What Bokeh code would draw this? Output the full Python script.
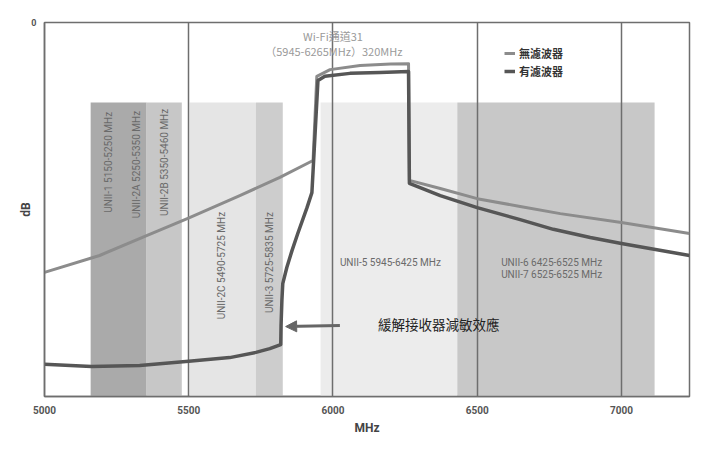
import numpy as np

from bokeh.plotting import figure
from bokeh.embed import file_html
from bokeh.resources import INLINE
from bokeh.models import Label, Arrow, NormalHead, FixedTicker, Range1d

# axis ticks
x_ticks = [5000, 5500, 6000, 6500, 7000]
y_ticks = [0]

# shaded U-NII bands (MHz), as drawn
band_left = [5160, 5354, 5503, 5733, 5957, 6431]
band_right = [5354, 5476, 5733, 5826, 6431, 7115]
band_top = -21.4
band_bottom = -100

# vertical band labels
vlabel_text = ['UNII-1 5150-5250 MHz', 'UNII-2A 5250-5350 MHz', 'UNII-2B 5350-5460 MHz',
               'UNII-2C 5490-5725 MHz', 'UNII-3 5725-5835 MHz']
vlabel_x = [5222, 5319, 5417, 5615, 5781]
vlabel_y = [-37.4, -38.0, -37.4, -65.0, -64.2]

# horizontal band labels
hlabel_text = ['UNII-5 5945-6425 MHz', 'UNII-6 6425-6525 MHz', 'UNII-7 6525-6525 MHz']
hlabel_x = [6024, 6583, 6583]
hlabel_y = [-64.2, -64.2, -67.4]

# no filter (lighter curve)
nofilter_mhz = [5000, 5191, 5354, 5497, 5677, 5816, 5931, 5944, 5990, 6094, 6200, 6262,
                6265, 6372, 6500, 6649, 6788, 7000, 7236]
nofilter_db = [-66.8, -62.3, -57.0, -52.4, -46.3, -41.4, -36.9, -14.4, -12.6, -11.5, -11.1, -11.0,
               -42.2, -44.4, -47.1, -49.2, -51.1, -53.5, -56.4]

# with filter (darker curve)
filter_mhz = [5000, 5163, 5330, 5500, 5642, 5733, 5781, 5819, 5820, 5823, 5826, 5840, 5858,
              5878, 5910, 5927, 5948, 5972, 6059, 6163, 6262, 6265, 6372, 6500, 6649, 6764,
              6892, 7000, 7236]
filter_db = [-91.4, -92.0, -91.7, -90.6, -89.6, -88.2, -87.2, -86.1, -81.0, -74.3, -69.8, -65.5, -61.0,
             -56.4, -49.5, -45.5, -15.5, -14.4, -13.6, -13.4, -13.1, -43.0, -46.3, -49.5, -52.7, -55.3,
             -57.5, -59.1, -62.3]

band_fills = ['#aaaaaa', '#c7c7c7', '#e5e5e5', '#cdcdcd', '#ececec', '#c8c8c8']
cjk_font = 'Noto Sans CJK TC'
num_font = 'Roboto'

p = figure(width=698, height=440, output_backend='svg', toolbar_location=None,
           x_range=Range1d(5000, 7236), y_range=Range1d(-100, 0),
           min_border_left=44, min_border_right=9, min_border_top=22, min_border_bottom=44)
p.background_fill_color = 'white'
p.border_fill_color = 'white'
p.outline_line_color = '#6e6e6e'
p.outline_line_width = 1.5

# bands
p.quad(left=band_left, right=band_right, top=band_top, bottom=band_bottom,
       fill_color=band_fills, line_color=None, level='image')

# curves
p.line(nofilter_mhz, nofilter_db, line_color='#8c8c8c', line_width=3, line_join='round',
       legend_label='無濾波器')
p.line(filter_mhz, filter_db, line_color='#565656', line_width=3.5, line_join='round',
       legend_label='有濾波器')

# band labels
for t, x, y in zip(vlabel_text, vlabel_x, vlabel_y):
    p.add_layout(Label(x=x, y=y, text=t, angle=np.pi / 2, text_align='center', text_baseline='middle',
                       text_font=num_font, text_font_size='10px', text_color='#6a6a6a'))
for t, x, y in zip(hlabel_text, hlabel_x, hlabel_y):
    p.add_layout(Label(x=x, y=y, text=t, text_align='left', text_baseline='middle',
                       text_font=num_font, text_font_size='10px', text_color='#6a6a6a'))

# channel note
p.add_layout(Label(x=6000, y=-3.5, text='Wi-Fi通道31', text_align='center', text_baseline='middle',
                   text_font=cjk_font, text_font_size='11px', text_color='#9a9a9a'))
p.add_layout(Label(x=6003, y=-7.5, text='（5945-6265MHz）320MHz', text_align='center',
                   text_baseline='middle', text_font=cjk_font, text_font_size='11px', text_color='#9a9a9a'))

# arrow + note
p.add_layout(Arrow(end=NormalHead(size=11, fill_color='#666666', line_color='#666666'),
                   x_start=6024, y_start=-81.0, x_end=5836, y_end=-81.3,
                   line_color='#666666', line_width=3))
p.add_layout(Label(x=6156, y=-80.5, text='緩解接收器減敏效應', text_align='left', text_baseline='middle',
                   text_font=cjk_font, text_font_size='13.5px', text_color='#222222'))

# axes
p.xaxis.ticker = FixedTicker(ticks=x_ticks)
p.yaxis.ticker = FixedTicker(ticks=y_ticks)
p.xgrid.ticker = FixedTicker(ticks=x_ticks)
p.xgrid.grid_line_color = '#6e6e6e'
p.xgrid.grid_line_width = 1.5
p.ygrid.grid_line_color = None
p.xaxis.axis_label = 'MHz'
p.yaxis.axis_label = 'dB'
for ax in (p.xaxis, p.yaxis):
    ax.axis_line_color = '#6e6e6e'
    ax.axis_line_width = 1.5
    ax.major_tick_line_color = None
    ax.minor_tick_line_color = None
    ax.major_label_text_font = num_font
    ax.major_label_text_font_style = 'bold'
    ax.major_label_text_font_size = '10px'
    ax.major_label_text_color = '#555555'
    ax.axis_label_text_font = num_font
    ax.axis_label_text_font_style = 'bold'
    ax.axis_label_text_font_size = '12px'
    ax.axis_label_text_color = '#444444'
p.yaxis.major_label_text_font_size = '9px'
p.xaxis.major_label_standoff = 3
p.xaxis.axis_label_standoff = 4
p.yaxis.major_label_standoff = 2
p.yaxis.axis_label_standoff = -5

# legend
p.legend.location = (460, 317)
p.legend.background_fill_alpha = 0
p.legend.border_line_color = None
p.legend.label_text_font = cjk_font
p.legend.label_text_font_style = 'bold'
p.legend.label_text_font_size = '11px'
p.legend.label_text_color = '#333333'
p.legend.glyph_width = 11
p.legend.glyph_height = 12
p.legend.label_height = 12
p.legend.label_standoff = 4
p.legend.spacing = 2
p.legend.padding = 0
p.legend.margin = 0

open('out.html', 'w').write(file_html(p, INLINE))
